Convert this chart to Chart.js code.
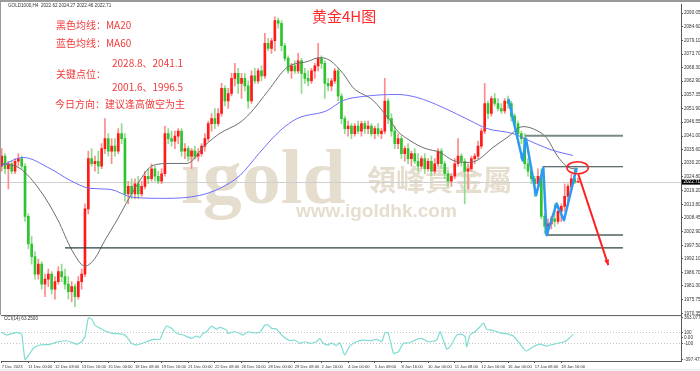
<!DOCTYPE html>
<html>
<head>
<meta charset="utf-8">
<script src="https://cdn.jsdelivr.net/npm/chart.js@4.4.1/dist/chart.umd.min.js"></script>
<style>
  html, body { margin: 0; padding: 0; background: #fff; }
  #wrap { position: relative; width: 700px; height: 371px; }
</style>
</head>
<body>
<div id="wrap"><canvas id="goldChart" width="700" height="371"></canvas></div>
<script>
/* ---- 4H candles ---- */
const opens = [
  2029,2033,2028,2030,2027,2031,2032,2029,2009,1998,
  1993,1986,1990,1982,1984,1986,1980,1983,1987,1985,
  1982,1979,1981,1977,1983,1986,2012,2032,2030,2031,
  2029,2036,2040,2035,2037,2035,2042,2040,2018,2021,
  2018,2022,2018,2021,2025,2024,2028,2025,2023,2026,
  2042,2040,2039,2041,2043,2035,2036,2033,2035,2033,
  2034,2037,2040,2046,2048,2046,2050,2060,2055,2058,
  2064,2066,2062,2064,2061,2055,2065,2063,2067,2065,
  2078,2076,2079,2087,2086,2077,2072,2067,2069,2067,
  2071,2066,2064,2063,2067,2069,2072,2070,2062,2061,
  2063,2067,2057,2048,2044,2045,2042,2045,2043,2046,
  2044,2045,2042,2044,2042,2043,2055,2048,2043,2038,
  2040,2034,2036,2032,2034,2031,2029,2032,2028,2031,
  2027,2030,2035,2030,2026,2023,2025,2030,2033,2031,
  2027,2028,2032,2033,2037,2043,2054,2050,2056,2054,
  2052,2051,2055,2054,2049,2046,2042,2040,2030,2027,
  2024,2022,2025,2009,2005,2006,2008,2007,2011,2013,
  2017,2021,2024,2022.62
];
const highs = [
  2036,2034,2031,2031,2032,2034,2033,2030,2010,2001,
  1995,1992,1991,1986,1988,1987,1985,1989,1990,1988,
  1985,1983,1982,1985,1988,2014,2035,2036,2033,2035,
  2038,2048,2042,2040,2040,2044,2046,2042,2023,2024,
  2024,2025,2023,2027,2028,2030,2029,2027,2028,2045,
  2044,2043,2043,2044,2044,2038,2037,2036,2037,2036,
  2038,2042,2047,2050,2052,2052,2062,2061,2060,2066,
  2070,2068,2066,2066,2063,2067,2068,2068,2069,2082,
  2080,2080,2088.5,2088,2087,2078,2073,2070,2071,2074,
  2072,2068,2067,2068,2070,2078,2073,2071,2064,2064,
  2068,2068,2058,2049,2047,2046,2046,2047,2047,2047,
  2047,2046,2045,2046,2044,2064,2056,2050,2045,2042,
  2041,2037,2038,2035,2036,2034,2033,2034,2032,2033,
  2032,2036,2036,2031,2027,2026,2032,2040,2034,2032,
  2030,2033,2034,2039,2044,2062,2055,2057,2058,2056,
  2054,2056,2057,2055,2050,2047,2043,2042,2032,2029,
  2025,2028,2028,2010,2008,2009,2014,2013,2014,2022,
  2022,2026,2028.4,2024.27
];
const lows = [
  2027,2026,2020,2026,2026,2029,2028,2007,1996,1990,
  1984,1984,1980,1977,1981,1978,1976,1982,1983,1980,
  1976,1975,1973,1976,1980,1985,2010,2029,2027,2026,
  2028,2034,2033,2030,2033,2034,2038,2015,2014,2016,
  2016,2016,2017,2020,2022,2023,2023,2022,2022,2025,
  2038,2037,2036,2038,2033,2032,2031,2028,2032,2031,
  2033,2035,2039,2043,2044,2045,2049,2053,2052,2057,
  2061,2058,2056,2059,2052,2054,2062,2062,2063,2064,
  2075,2074,2075,2084,2075,2071,2066,2064,2066,2066,
  2058,2062,2061,2062,2064,2067,2068,2056,2059,2059,
  2062,2055,2046,2042,2041,2040,2041,2042,2041,2042,
  2042,2041,2040,2041,2040,2042,2046,2041,2036,2036,
  2032,2031,2030,2029,2030,2027,2028,2026,2027,2025,
  2026,2029,2028,2024,2021,2021,2024,2029,2029,2014,
  2020,2027,2030,2032,2036,2042,2048,2049,2053,2051,
  2050,2050,2052,2047,2045,2041,2038,2028,2025,2022,
  2017,2021,2008,2002,2002,2004,2005,2006,2007,2011,
  2015,2019,2022,2022.46
];
const closes = [
  2033,2028,2030,2027,2031,2032,2029,2009,1998,1993,
  1986,1990,1982,1984,1986,1980,1983,1987,1985,1982,
  1979,1981,1977,1983,1986,2012,2032,2030,2031,2029,
  2036,2040,2035,2037,2035,2042,2040,2018,2021,2018,
  2022,2018,2021,2025,2024,2028,2025,2023,2026,2042,
  2040,2039,2041,2043,2035,2036,2033,2035,2033,2034,
  2037,2040,2046,2048,2046,2050,2060,2055,2058,2064,
  2066,2062,2064,2061,2055,2065,2063,2067,2065,2078,
  2076,2079,2087,2086,2077,2072,2067,2069,2067,2071,
  2066,2064,2063,2067,2069,2072,2070,2062,2061,2063,
  2067,2057,2048,2044,2045,2042,2045,2043,2046,2044,
  2045,2042,2044,2042,2043,2055,2048,2043,2038,2040,
  2034,2036,2032,2034,2031,2029,2032,2028,2031,2027,
  2030,2035,2030,2026,2023,2025,2030,2033,2031,2027,
  2028,2032,2033,2037,2043,2054,2050,2056,2054,2052,
  2051,2055,2054,2049,2046,2042,2040,2030,2027,2024,
  2022,2025,2009,2005,2006,2008,2007,2011,2013,2017,
  2021,2024,2022.6,2022.71
];

/* moving averages, read at a few bars each */
const ma20Bars = [0,5.5,11.5,16.9,21.1,25,28,31,34.6,40,45.4,50.5,55.6,61,65.5,71.5,74.5,80,85.6,91.7,95.6,98.6,102.5,105.5,111.5,116.6,118.7,122.6,127.1,131.6,135.5,139.7,142.7,147.5,151.7,156.5,160.7,163.7,166.7,169.7,172.7];
const ma20Values = [2030.1,2028.1,2019.4,2007.5,1995.5,1989.2,1992.3,1999.5,2007.5,2020.2,2029.3,2030.1,2030.1,2037.3,2042.1,2046.4,2050.0,2059.1,2068.3,2070.7,2072.3,2071.1,2065.9,2060.3,2055.2,2047.2,2043.2,2039.2,2036.1,2034.5,2031.3,2030.5,2031.3,2036.5,2040.4,2044.8,2043.2,2040.1,2033.3,2028.9,2027.7];
const ma60Bars = [0,6.4,14.5,20.5,26.5,32.5,39.4,49.6,59.5,65.5,71.5,77.5,83.6,88.7,97.7,102.5,108.5,118.7,124.7,132.5,140.6,145.7,153.5,159.5,165.5,171.5];
const ma60Values = [2029.3,2032.5,2028.1,2023.4,2020.2,2019.8,2016.6,2016.2,2017.4,2020.2,2025.3,2034.5,2043.2,2048.0,2051.2,2055.2,2056.8,2057.6,2056.4,2052.4,2047.2,2044.0,2042.0,2038.5,2035.3,2033.3];

/* CCI(14) */
const cciBars = [0,1.5,3.5,4.5,6,7,8.5,9.5,11.5,14.5,17,19.5,21,22.5,24,25,26,27,28,29.5,31.5,33.5,36.5,37.5,39,40.5,43.5,45.5,47.5,48.5,49.5,51,52.5,54.5,57,58.5,59.5,60.5,61.5,63,64.5,65.5,67.5,68,69.5,71,72.5,74,75.5,77.5,79,80,81,82.5,84,86.5,88,89.5,91,92.5,94.5,95.5,96.5,98,99,100.5,101.5,103,104.5,106.5,108.5,110.6,112.6,114.1,115.1,116.1,117.6,119.1,120.6,122.6,124.6,126.1,128.1,130.6,131.6,133.6,134.6,136.6,138.1,139.1,139.6,140.6,142.1,143.6,144.6,145.6,147.1,149.1,150.6,152.1,153.6,155.1,156.6,157.6,159.6,161.6,163.6,165.6,167.6,169.1,170.6,171.6];
const cciValues = [100,51,82,100,64,-397,-282,-191,-131,-118,-71,-53,-82,-118,-71,20,363,342,233,173,111,82,64,20,-100,-131,-71,-27,-27,111,215,173,82,51,-9,33,9,82,111,215,155,191,142,82,111,93,51,111,93,100,233,233,173,160,51,-53,-40,-100,-71,-100,-71,-9,-100,-131,-89,-144,-89,-313,-145,-71,-40,-53,-27,-71,100,82,-282,-253,-100,-89,-27,-9,-71,-40,111,-204,-162,51,69,20,-162,51,111,202,275,155,142,100,82,69,33,-71,-191,-240,-162,-113,-149,-118,-89,-71,9,63.25];

/* axes */
const priceTicks = [2090.05,2084.60,2079.10,2073.70,2068.30,2062.90,2057.35,2051.90,2046.55,2041.00,2035.60,2030.20,2024.80,2019.20,2013.80,2008.45,2002.90,1997.50,1992.10,1986.70,1981.30,1975.75,1970.35];
const cciTicks = [363.0776,100,0,-100,-397.475];
const cciTickLabels = ['363.0776','100','0.00','-100','-397.475'];
const timeTickBars = [0,8,16,24,32,40,48,56,64,72,80,88,96,104,112,120,128,136,144,152,160,168];
const timeTickLabels = ['7 Dec 2023','11 Dec 00:00','12 Dec 08:00','13 Dec 16:00','15 Dec 00:00','18 Dec 08:00','19 Dec 16:00','21 Dec 00:00','22 Dec 08:00','26 Dec 16:00','28 Dec 00:00','29 Dec 08:00','2 Jan 16:00','4 Jan 00:00','5 Jan 08:00','8 Jan 16:00','10 Jan 00:00','11 Jan 08:00','12 Jan 16:00','16 Jan 00:00','17 Jan 08:00','18 Jan 16:00'];

/* analyst drawings */
const keyLevels = [2041.1, 2028.8, 2001.6, 1996.5];
const keyLevelFrom = [157.1, 162.4, 163.4, 19];
const keyLevelTo = 186.5;
const waveBars = [152.1,156.4,157.4,160.4,162.6,163.6,166.6,168.8,172.6];
const wavePrices = [2055.9,2031.3,2040.0,2017.4,2028.4,2001.5,2014.1,2007.5,2028.4];
const targetBars = [173.1, 182.1];
const targetPrices = [2025.8, 1989.6];
const resistBar = 172.9, resistPrice = 2028.4;
const lastPrice = closes[closes.length - 1];

const UP = '#ff1a1a', DOWN = '#2fc42f';
const UP_WICK = '#ff8a8a', DOWN_WICK = '#8fdc8f';
const isUp = closes.map((c, i) => c >= opens[i]);

const wicks = closes.map((c, i) => ({ x: i, y: [lows[i], highs[i]] }));
const bodies = closes.map((c, i) => ({ x: i, y: [opens[i], c] }));

function arrowHead(ctx, x1, y1, x2, y2, size) {
    const a = Math.atan2(y2 - y1, x2 - x1);
    ctx.beginPath();
    ctx.moveTo(x2, y2);
    ctx.lineTo(x2 - size * Math.cos(a - 0.45), y2 - size * Math.sin(a - 0.45));
    ctx.lineTo(x2 - size * Math.cos(a + 0.45), y2 - size * Math.sin(a + 0.45));
    ctx.closePath();
    ctx.fill();
}

const overlay = {
    id: 'overlay',
    beforeDatasetsDraw(chart) {
        const { ctx, chartArea: a, scales: { x, y, cci } } = chart;
        ctx.save();
        ctx.beginPath();
        ctx.rect(a.left, y.top, a.right - a.left, y.bottom - y.top);
        ctx.clip();
        // watermark
        ctx.fillStyle = 'rgba(190,170,130,0.4)';
        ctx.textBaseline = 'alphabetic';
        ctx.font = 'bold 78px "Liberation Serif"';
        ctx.fillText('igold', 181, 203);
        ctx.font = 'bold 29px "Noto Sans CJK TC"';
        ctx.textBaseline = 'middle';
        ctx.fillText('領峰貴金屬', 367, 180);
        ctx.textBaseline = 'alphabetic';
        ctx.font = 'bold 19px "Liberation Sans"';
        ctx.fillText('www.igoldhk.com', 296, 217);
        // last price line
        const py = Math.round(y.getPixelForValue(lastPrice)) + 0.5;
        ctx.strokeStyle = '#cfcfcf';
        ctx.lineWidth = 1;
        ctx.beginPath(); ctx.moveTo(a.left, py); ctx.lineTo(a.right, py); ctx.stroke();
        ctx.restore();

        // CCI +-100 levels
        ctx.save();
        ctx.strokeStyle = '#c4c4c4';
        ctx.setLineDash([1, 2]);
        [100, -100].forEach(v => {
            const yy = Math.round(cci.getPixelForValue(v)) + 0.5;
            ctx.beginPath(); ctx.moveTo(a.left, yy); ctx.lineTo(a.right, yy); ctx.stroke();
        });
        ctx.restore();
    },
    afterDatasetsDraw(chart) {
        const { ctx, scales: { x, y } } = chart;
        ctx.save();
        // key levels
        const lvColors = ['#7a8888', '#2f4040', '#7a8888', '#2f4040'];
        const lvWidths = [2, 1.2, 2, 1.2];
        keyLevels.forEach((p, k) => {
            const yy = y.getPixelForValue(p);
            ctx.strokeStyle = lvColors[k];
            ctx.lineWidth = lvWidths[k];
            ctx.beginPath();
            ctx.moveTo(x.getPixelForValue(keyLevelFrom[k]), yy);
            ctx.lineTo(x.getPixelForValue(keyLevelTo), yy);
            ctx.stroke();
        });
        // wave path
        const pts = waveBars.map((b, k) => [x.getPixelForValue(b), y.getPixelForValue(wavePrices[k])]);
        ctx.strokeStyle = '#2b9af3';
        ctx.fillStyle = '#2b9af3';
        ctx.lineWidth = 2.5;
        ctx.lineJoin = 'round';
        ctx.beginPath();
        pts.forEach(([px, py], k) => k ? ctx.lineTo(px, py) : ctx.moveTo(px, py));
        ctx.stroke();
        for (let k = 1; k < pts.length; k++) {
            arrowHead(ctx, pts[k - 1][0], pts[k - 1][1], pts[k][0], pts[k][1], 4.5);
        }
        // resistance ellipse
        ctx.strokeStyle = '#ff2020';
        ctx.lineWidth = 1.5;
        ctx.beginPath();
        ctx.ellipse(x.getPixelForValue(resistBar), y.getPixelForValue(resistPrice), 10.7, 6, 0, 0, Math.PI * 2);
        ctx.stroke();
        // target arrow
        const x1 = x.getPixelForValue(targetBars[0]), y1 = y.getPixelForValue(targetPrices[0]);
        const x2 = x.getPixelForValue(targetBars[1]), y2 = y.getPixelForValue(targetPrices[1]);
        ctx.lineWidth = 2;
        ctx.beginPath(); ctx.moveTo(x1, y1); ctx.lineTo(x2, y2); ctx.stroke();
        ctx.fillStyle = '#ff2020';
        arrowHead(ctx, x1, y1, x2, y2, 6);
        ctx.restore();
    },
    afterDraw(chart) {
        const { ctx, chartArea: a, scales: { y, cci } } = chart;
        ctx.save();
        // frames
        ctx.fillStyle = '#9a9a9a';
        ctx.fillRect(0, 0, 700, 2);
        ctx.fillRect(0, 0, 1, y.bottom);
        ctx.fillStyle = '#f0f0f0';
        ctx.fillRect(0, 369, 700, 2);
        ctx.strokeStyle = '#5a5a5a';
        ctx.lineWidth = 1;
        ctx.beginPath();
        ctx.moveTo(a.left, y.bottom + 0.5); ctx.lineTo(a.right, y.bottom + 0.5);
        ctx.moveTo(a.left, cci.bottom + 0.5); ctx.lineTo(a.right, cci.bottom + 0.5);
        ctx.moveTo(a.right + 0.5, a.top); ctx.lineTo(a.right + 0.5, cci.bottom + 1);
        ctx.stroke();

        // header + indicator caption
        ctx.fillStyle = '#333';
        ctx.font = '4.6px "Liberation Sans"';
        ctx.textBaseline = 'middle';
        const n = closes.length - 1;
        ctx.fillText('GOLD1000,H4  ' + opens[n].toFixed(2) + ' ' + highs[n].toFixed(2) + ' ' +
            lows[n].toFixed(2) + ' ' + closes[n].toFixed(2), 8, 5.5);
        ctx.fillText('CCI(14) ' + cciValues[cciValues.length - 1].toFixed(4), 4, cci.top + 4);

        // current price box
        const py = y.getPixelForValue(lastPrice);
        ctx.fillStyle = '#000';
        ctx.fillRect(a.right + 1, py - 2.6, 18, 5.2);
        ctx.fillStyle = '#fff';
        ctx.fillText(lastPrice.toFixed(2), a.right + 2.5, py + 0.2);

        // title and notes
        ctx.fillStyle = '#ff2a2a';
        ctx.font = '15px "Noto Sans CJK SC"';
        ctx.fillText('黄金4H图', 312, 16);
        ctx.fillStyle = '#f03a3a';
        ctx.font = '10px "Noto Sans CJK SC"';
        ctx.fillText('黑色均线：MA20', 56, 25);
        ctx.fillText('蓝色均线：MA60', 56, 43);
        ctx.fillText('2028.8、2041.1', 112, 63);
        ctx.fillText('关键点位：', 56, 74);
        ctx.fillText('2001.6、1996.5', 112, 87);
        ctx.fillText('今日方向：建议逢高做空为主', 55, 104);
        ctx.restore();
    }
};

const tickFont = { family: 'Liberation Sans', size: 4.6 };
const timeFont = { family: 'Liberation Sans', size: 4.1 };

new Chart(document.getElementById('goldChart').getContext('2d'), {
    type: 'bar',
    data: {
        datasets: [
            {
                label: 'wick', data: wicks, yAxisID: 'y', grouped: false, order: 3,
                backgroundColor: isUp.map(u => u ? UP_WICK : DOWN_WICK),
                barThickness: 1, borderWidth: 0
            },
            {
                label: 'body', data: bodies, yAxisID: 'y', grouped: false, order: 2,
                backgroundColor: isUp.map(u => u ? UP : DOWN),
                barThickness: 2, minBarLength: 1, borderWidth: 0
            },
            {
                type: 'line', label: 'MA20', yAxisID: 'y', order: 1,
                data: ma20Bars.map((b, k) => ({ x: b, y: ma20Values[k] })),
                borderColor: '#6e6e6e', borderWidth: 1, pointRadius: 0,
                cubicInterpolationMode: 'monotone'
            },
            {
                type: 'line', label: 'MA60', yAxisID: 'y', order: 1,
                data: ma60Bars.map((b, k) => ({ x: b, y: ma60Values[k] })),
                borderColor: '#6f6fff', borderWidth: 1, pointRadius: 0,
                cubicInterpolationMode: 'monotone'
            },
            {
                type: 'line', label: 'CCI', yAxisID: 'cci', order: 1,
                data: cciBars.map((b, k) => ({ x: b, y: cciValues[k] })),
                borderColor: '#7fdcd2', borderWidth: 1.2, pointRadius: 0, tension: 0.15
            }
        ]
    },
    options: {
        responsive: false,
        devicePixelRatio: 1,
        animation: false,
        layout: { padding: { left: 1, top: 3, right: 0, bottom: 0 } },
        plugins: { legend: { display: false }, tooltip: { enabled: false } },
        scales: {
            x: {
                type: 'linear', position: 'bottom', offset: false,
                min: -0.21, max: 203.93,
                grid: { drawOnChartArea: false, offset: false, tickLength: 2, color: '#555' },
                border: { display: false },
                afterBuildTicks: s => { s.ticks = timeTickBars.map(v => ({ value: v })); },
                afterFit: s => { s.height = 10; },
                ticks: {
                    autoSkip: false, maxRotation: 0, align: 'start', padding: 1.5,
                    color: '#333', font: timeFont,
                    callback: (v, i) => timeTickLabels[i]
                }
            },
            y: {
                type: 'linear', position: 'right', stack: 'panes', stackWeight: 312,
                min: 1969.67, max: 2093.75, beginAtZero: false,
                grid: { drawOnChartArea: false, tickLength: 2, color: '#555' },
                border: { display: false },
                afterBuildTicks: s => { s.ticks = priceTicks.map(v => ({ value: v })); },
                afterFit: s => { s.width = 19; },
                ticks: { autoSkip: false, padding: 1, color: '#333', font: tickFont, callback: v => v.toFixed(2) }
            },
            cci: {
                type: 'linear', position: 'right', stack: 'panes', stackWeight: 46,
                min: -421.8, max: 414.5, beginAtZero: false,
                grid: { drawOnChartArea: false, tickLength: 2, color: '#555' },
                border: { display: false },
                afterBuildTicks: s => { s.ticks = cciTicks.map(v => ({ value: v })); },
                afterFit: s => { s.width = 19; },
                ticks: { autoSkip: false, padding: 1, color: '#333', font: tickFont, callback: (v, i) => cciTickLabels[i] }
            }
        }
    },
    plugins: [overlay]
});
</script>
</body>
</html>
